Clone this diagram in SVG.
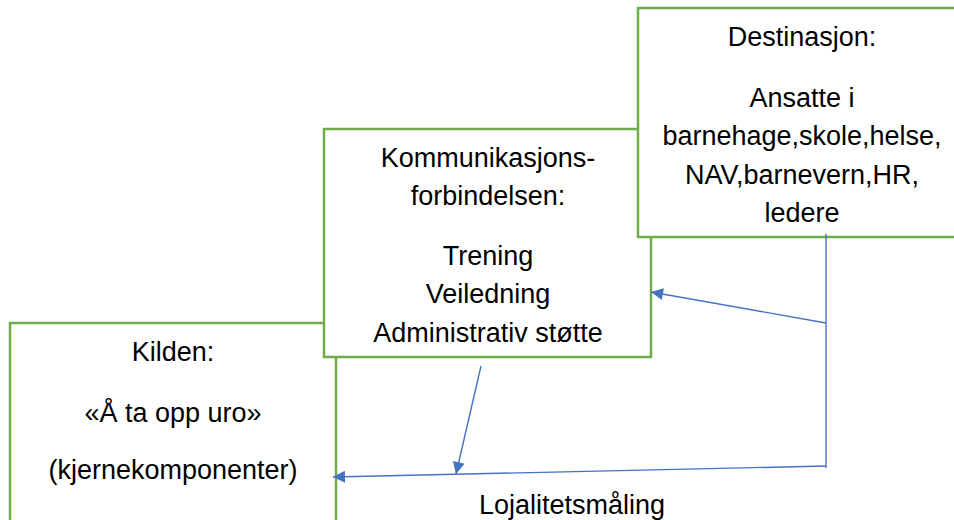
<svg xmlns="http://www.w3.org/2000/svg" width="954" height="520" viewBox="0 0 954 520">
<defs>
<style>
.box{fill:#ffffff;stroke:#70AD47;stroke-width:2.5}
.t{font-family:"Liberation Sans",Arial,sans-serif;font-size:27px;fill:#000000;text-anchor:middle}
.c{fill:none;stroke:#4472C4;stroke-width:1.4}
</style>
<marker id="ah" viewBox="0 0 12 12" refX="12" refY="6" markerWidth="13" markerHeight="12" markerUnits="userSpaceOnUse" orient="auto">
<path d="M0,0 L12,6 L0,12 z" fill="#4472C4"/>
</marker>
</defs>
<rect width="954" height="520" fill="#ffffff"/>
<g id="kilden">
<rect class="box" x="10" y="323" width="326" height="210"/>
<text class="t" x="173" y="361">Kilden:</text>
<text class="t" x="173" y="422">«Å ta opp uro»</text>
<text class="t" x="173" y="479">(kjernekomponenter)</text>
</g>
<g id="kommunikasjon">
<rect class="box" x="324" y="129" width="327" height="228"/>
<text class="t" x="488" y="167">Kommunikasjons-</text>
<text class="t" x="488" y="205">forbindelsen:</text>
<text class="t" x="488" y="265">Trening</text>
<text class="t" x="488" y="303">Veiledning</text>
<text class="t" x="488" y="342">Administrativ støtte</text>
</g>
<g id="destinasjon">
<rect class="box" x="638" y="8" width="330" height="229"/>
<text class="t" x="802" y="46">Destinasjon:</text>
<text class="t" x="802" y="107">Ansatte i</text>
<text class="t" x="802" y="145">barnehage,skole,helse,</text>
<text class="t" x="802" y="184">NAV,barnevern,HR,</text>
<text class="t" x="802" y="222">ledere</text>
</g>
<g id="connectors">
<line class="c" x1="826" y1="234" x2="826" y2="468"/>
<line class="c" x1="826" y1="323" x2="651" y2="292" marker-end="url(#ah)"/>
<line class="c" x1="826" y1="466" x2="333" y2="477" marker-end="url(#ah)"/>
<line class="c" x1="481" y1="366" x2="456" y2="474" marker-end="url(#ah)"/>
</g>
<text class="t" x="572" y="514">Lojalitetsmåling</text>
</svg>
